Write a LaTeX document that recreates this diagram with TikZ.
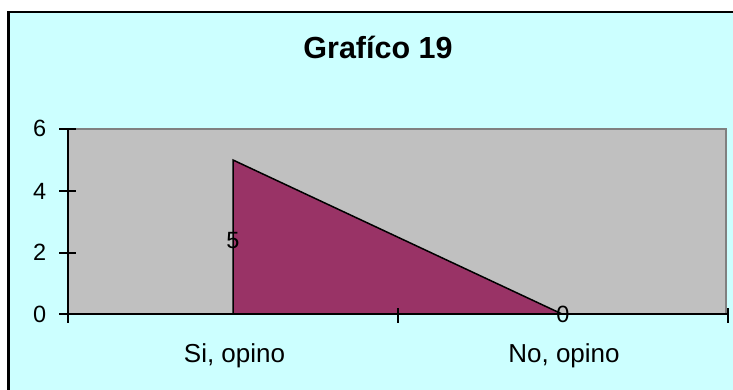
\documentclass[tikz,border=0pt]{standalone}
\usepackage{fontspec}
\setmainfont{Liberation Sans}
\definecolor{bgcyan}{HTML}{CCFFFF}
\definecolor{plotgray}{HTML}{C0C0C0}
\definecolor{edgegray}{HTML}{808080}
\definecolor{areapurple}{HTML}{993366}
\tikzset{
  axisline/.style={line width=2pt, black},
  tickline/.style={line width=1.6pt, black},
  ylab/.style={anchor=base east, inner sep=0pt, font=\fontsize{23.5}{23.5}\selectfont},
  xlab/.style={anchor=base, inner sep=0pt, font=\fontsize{26}{26}\selectfont},
  vallab/.style={anchor=base, inner sep=0pt, font=\fontsize{23.5}{23.5}\selectfont},
  titlelab/.style={anchor=base, inner sep=0pt, font=\fontsize{30.5}{30.5}\selectfont\bfseries},
}
\begin{document}
\begin{tikzpicture}[x=1pt,y=-1pt]
\useasboundingbox (0,0) rectangle (733,390);
% background and frame
\fill[white] (0,0) rectangle (733,390);
\fill[bgcyan] (8.5,12) rectangle (733,390);
\draw[line width=2.5pt] (8.5,390) -- (8.5,12) -- (733,12);
% title
\node[titlelab] (title) at (378,59) {Grafíco 19};
% plot area
\fill[plotgray] (68,129) rectangle (726,314);
\draw[edgegray, line width=1.5pt] (68,129) -- (726,129) -- (726,314);
% area series
\coordinate (p1) at (233,160);
\coordinate (p1b) at (233,314);
\coordinate (p2) at (562,314);
\filldraw[fill=areapurple, draw=black, line width=1.5pt, line join=miter] (p1b) -- (p1) -- (p2) -- cycle;
% axes
\coordinate (yt) at (68,129);
\coordinate (yb) at (68,323);
\coordinate (xl) at (68,314);
\coordinate (xr) at (728,314);
\draw[axisline] (yt) -- (yb);
\draw[axisline] (xl) -- (xr);
% y ticks
\foreach \v/\yy in {0/314,2/252.7,4/191.3,6/129}{
  \draw[tickline] (59,\yy) -- (76,\yy);
  \node[ylab] (ylab\v) at (46.5,\yy+8) {\v};
}
% x ticks
\foreach \xx in {398,728}{
  \draw[tickline] (\xx,308) -- (\xx,323);
}
% category labels
\node[xlab] (cat1) at (234.5,362) {Si, opino};
\node[xlab] (cat2) at (564,362) {No, opino};
% data labels
\node[vallab] (v1) at (233,248) {5};
\node[vallab] (v2) at (563,322) {0};
\end{tikzpicture}
\end{document}
